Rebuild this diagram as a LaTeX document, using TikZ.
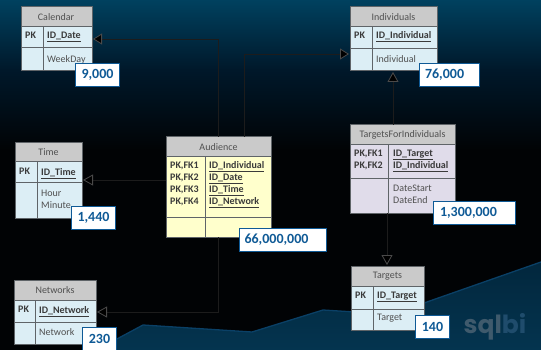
\documentclass[tikz,border=0pt]{standalone}
\usepackage{fontspec}
\setmainfont{Carlito}
\newfontfamily\logofont{Poppins}
\usetikzlibrary{arrows.meta,calc}
\definecolor{bgtop}{HTML}{00415F}
\definecolor{bgmid}{HTML}{00182A}
\definecolor{bgdark}{HTML}{010305}
\definecolor{wavetop}{HTML}{02273D}
\definecolor{wavebot}{HTML}{04344F}
\definecolor{wavehi}{HTML}{0A4066}
\definecolor{headgrey}{HTML}{CACACA}
\definecolor{boxblue}{HTML}{DCEEF5}
\definecolor{boxyellow}{HTML}{FFFFCC}
\definecolor{boxlilac}{HTML}{E0DCEA}
\definecolor{framegrey}{HTML}{5F6468}
\definecolor{txt}{HTML}{505050}
\definecolor{keytxt}{HTML}{3A3A3A}
\definecolor{lblblue}{HTML}{0F5A96}
\definecolor{linkdark}{HTML}{1C1C1C}
\definecolor{tipline}{HTML}{4A4A4A}
\definecolor{logoa}{HTML}{3F5A6C}
\definecolor{logob}{HTML}{1F4C6C}
\tikzset{
  x=1pt,y=-1pt,
  tablebox/.style={draw=framegrey,line width=1pt,anchor=north west,inner sep=0pt,outer sep=0pt},
  headcell/.style={font=\fontsize{10}{11}\selectfont,text=txt},
  keycell/.style={font=\fontsize{10}{12}\selectfont\bfseries,text=keytxt,align=left,anchor=north west,inner sep=0pt},
  fieldcell/.style={font=\fontsize{10}{12}\selectfont,text=txt,align=left,anchor=north west,inner sep=0pt},
  boldfield/.style={fieldcell,font=\fontsize{10}{12}\selectfont\bfseries,text=keytxt},
  countlabel/.style={draw=lblblue,line width=1pt,fill=white,anchor=north west,inner sep=0pt,font=\fontsize{14}{15}\selectfont\bfseries,text=lblblue},
  link/.style={draw=linkdark,line width=.8pt},
  solidtip/.style={link,-{Triangle[length=9pt,width=11pt,color=tipline,fill=black]}},
  opentip/.style={link,-{Triangle[length=10pt,width=11pt,color=tipline,fill=black]}},
}
% name, x, y, w, h, header bottom, row bottom, fill, vertical offset
\newcommand{\tablebox}[9]{%
  \node[tablebox,fill=#8,minimum width=#4pt,minimum height=#5pt] (#1) at (#2,#3) {};
  \fill[headgrey] (#2,#3) rectangle (#2+#4,#6);
  \draw[framegrey,line width=1pt] (#2,#6) -- (#2+#4,#6);
  \draw[framegrey,line width=1pt] (#2,#7) -- (#2+#4,#7);
  \draw[framegrey,line width=1pt] (#2+#9,#6) -- (#2+#9,#3+#5);
  \draw[framegrey,line width=1pt] (#2,#3) rectangle (#2+#4,#3+#5);
}
\begin{document}
\begin{tikzpicture}
\useasboundingbox (0,0) rectangle (541,350);
% background
\shade[top color=bgtop,bottom color=bgmid] (0,0) rectangle (541,70);
\shade[top color=bgmid,bottom color=bgdark] (0,70) rectangle (541,150);
\fill[bgdark] (0,150) rectangle (541,350);
\shade[top color=wavetop,bottom color=wavebot] (100,350) -- (115,340) -- (143,325) -- (252,332) -- (323,310) -- (355,312) -- (424,303) -- (541,262) -- (541,350) -- cycle;
\draw[wavehi,line width=1.3pt] (100,350) -- (115,340) -- (143,325) -- (252,332) -- (323,310) -- (355,312) -- (424,303) -- (541,262);

% tables
\tablebox{calendar}{21}{7}{71}{64}{27}{48}{boxblue}{22}
\tablebox{individuals}{350}{7}{87}{64}{27}{49}{boxblue}{22}
\tablebox{time}{15}{143}{67}{75}{162}{183}{boxblue}{22}
\tablebox{networks}{14}{280}{82}{64}{300}{322}{boxblue}{21}
\tablebox{targets}{351}{266}{73}{64}{286}{309}{boxblue}{22}
\tablebox{audience}{166}{137}{105}{100}{157}{217}{boxyellow}{39}
\tablebox{tfi}{350}{125}{105}{88}{145}{179}{boxlilac}{38}

% titles
\node[headcell] (t1) at (56,17) {Calendar};
\node[headcell] (t2) at (393.5,17) {Individuals};
\node[headcell] (t3) at (48.5,152.5) {Time};
\node[headcell] (t4) at (55,290) {Networks};
\node[headcell] (t5) at (387.5,276) {Targets};
\node[headcell] (t6) at (218.5,147) {Audience};
\node[headcell] (t7) at (402.5,135) {TargetsForIndividuals};

% keys
\node[keycell] (k1) at (25,31.5) {PK};
\node[boldfield] (f1) at (47,31.5) {\underline{ID\_Date}};
\node[fieldcell] (g1) at (47,55) {WeekDay};
\node[keycell] (k2) at (354,31.5) {PK};
\node[boldfield] (f2) at (376,31.5) {\underline{ID\_Individual}};
\node[fieldcell] (g2) at (376,55) {Individual};
\node[keycell] (k3) at (19,168) {PK};
\node[boldfield] (f3) at (41,168) {\underline{ID\_Time}};
\node[fieldcell] (g3) at (41,190) {Hour\\Minute};
\node[keycell] (k4) at (18,306) {PK};
\node[boldfield] (f4) at (39,306) {\underline{ID\_Network}};
\node[fieldcell] (g4) at (39,328) {Network};
\node[keycell] (k5) at (355,291.5) {PK};
\node[boldfield] (f5) at (377,291.5) {\underline{ID\_Target}};
\node[fieldcell] (g5) at (377,314) {Target};
\node[keycell] (k6) at (170,161.5) {PK,FK1\\PK,FK2\\PK,FK3\\PK,FK4};
\node[boldfield] (f6) at (209,161.5) {\underline{ID\_Individual}\\\underline{ID\_Date}\\\underline{ID\_Time}\\\underline{ID\_Network}};
\node[keycell] (k7) at (354,149.5) {PK,FK1\\PK,FK2};
\node[boldfield] (f7) at (393,149.5) {\underline{ID\_Target}\\\underline{ID\_Individual}};
\node[fieldcell] (g7) at (393,185) {DateStart\\DateEnd};

% ports
\coordinate (calIn) at (93,39);
\coordinate (indIn) at (349,54);
\coordinate (audToInd) at (244,137);
\coordinate (timeIn) at (83,180);
\coordinate (audToTime) at (166,180);
\coordinate (netIn) at (97,312);
\coordinate (indBottom) at (393,72);
\coordinate (tfiTop) at (393,125);
\coordinate (tfiBottom) at (387,213);
\coordinate (tarTop) at (387,265);

% connectors
\draw[solidtip] (audience.north) |- (calIn);
\draw[solidtip] (audToInd) |- (indIn);
\draw[opentip] (audToTime) -- (timeIn);
\draw[opentip] (audience.south) |- (netIn);
\draw[opentip] (tfiTop) -- (indBottom);
\draw[opentip] (tfiBottom) -- (tarTop);

% counts
\node[countlabel,minimum width=44pt,minimum height=23pt] (c1) at (75,63) {9,000};
\node[countlabel,minimum width=60pt,minimum height=23pt,text width=49pt,align=left] (c2) at (419,63) {76,000};
\node[countlabel,minimum width=44pt,minimum height=23pt] (c3) at (71,206) {1,440};
\node[countlabel,minimum width=34pt,minimum height=23pt] (c4) at (82,327) {230};
\node[countlabel,minimum width=34pt,minimum height=23pt] (c5) at (415,315) {140};
\node[countlabel,minimum width=87pt,minimum height=23pt,text width=77pt,align=left] (c6) at (239,228) {66,000,000};
\node[countlabel,minimum width=82pt,minimum height=23pt,text width=69pt,align=left] (c7) at (433,201) {1,300,000};

% logo
\node[anchor=center,inner sep=0pt,font=\logofont\fontsize{25}{25}\selectfont\bfseries] (logo) at (495,327) {\textcolor{logoa}{sql}\textcolor{logob}{bi}};
\end{tikzpicture}
\end{document}
